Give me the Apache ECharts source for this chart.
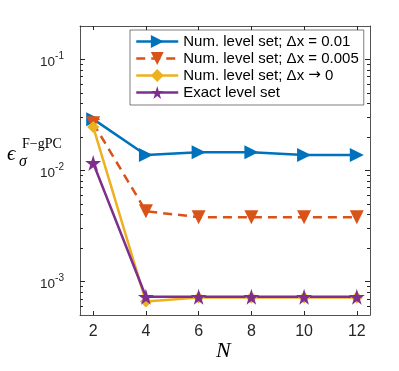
<!DOCTYPE html>
<html>
<head>
<meta charset="utf-8">
<script src="https://cdn.jsdelivr.net/npm/echarts@6/dist/echarts.min.js"></script>
<style>
html, body { margin: 0; padding: 0; background: #fff; }
#myChart { width: 399px; height: 371px; }
</style>
</head>
<body>
<div id="myChart"></div>
<script>
// data
var nVals = [2, 4, 6, 8, 10, 12];
var numDx01 = [0.029, 0.0138, 0.0146, 0.0146, 0.0138, 0.0138];
var numDx005 = [0.0267, 0.0043, 0.0038, 0.0038, 0.0038, 0.0038];
var numDx0 = [0.0247, 0.00066, 0.00072, 0.00072, 0.00072, 0.00072];
var exactLS = [0.0117, 0.00073, 0.00073, 0.00073, 0.00073, 0.00073];
var seriesNames = ['Num. level set; \u0394x = 0.01', 'Num. level set; \u0394x = 0.005', 'Num. level set; \u0394x \u2192 0', 'Exact level set'];
var yMajorTicks = [0.001, 0.01, 0.1];
var yMinorTicks = [0.0006, 0.0007, 0.0008, 0.0009, 0.002, 0.003, 0.004, 0.005, 0.006, 0.007, 0.008, 0.009,
	0.02, 0.03, 0.04, 0.05, 0.06, 0.07, 0.08, 0.09];

var axisColor = '#262626';
var starPath = 'path://M50,0 L61,35 L98,35 L68,57 L79,91 L50,70 L21,91 L32,57 L2,35 L39,35 Z';

function pairs(ys) {
	return nVals.map(function (n, i) { return [n, ys[i]]; });
}

var myChart = echarts.init(document.getElementById('myChart'));

var gridRect = { left: 80, right: 29, top: 26, bottom: 56 };

function xAxisOf(grid, pos, showLine) {
	return {
		type: 'value', gridIndex: grid, min: 1.5, max: 12.5, position: pos,
		splitLine: { show: false },
		axisLine: { show: showLine, onZero: false, lineStyle: { color: axisColor, width: 0.8 } },
		axisTick: { show: showLine, inside: true, length: 4, customValues: nVals, lineStyle: { color: axisColor } },
		axisLabel: { show: false }
	};
}

function yAxisOf(grid, pos, ticks, len) {
	return {
		type: 'log', gridIndex: grid, min: 0.0005, max: 0.2, position: pos,
		splitLine: { show: false },
		axisLine: { show: grid === 0, onZero: false, lineStyle: { color: axisColor, width: 0.8 } },
		axisTick: { inside: true, length: len, customValues: ticks, lineStyle: { color: axisColor } },
		axisLabel: { show: false }
	};
}

var xMain = xAxisOf(0, 'bottom', true);
xMain.axisLabel = { customValues: nVals, fontFamily: 'Liberation Sans', fontSize: 16, color: axisColor, margin: 9 };

var yMain = yAxisOf(0, 'left', yMajorTicks, 5);
yMain.axisLabel = {
	customValues: yMajorTicks,
	margin: 16,
	formatter: function (v) {
		return '{b|10}{s|' + Math.round(Math.log10(v)) + '}';
	},
	rich: {
		b: { fontFamily: 'Liberation Sans', fontSize: 13.5, color: axisColor, padding: [5, 0, 0, 0] },
		s: { fontFamily: 'Liberation Sans', fontSize: 10, color: axisColor, padding: [0, 0, 6, 0] }
	}
};

var option = {
	animation: false,
	grid: [gridRect, gridRect],
	legend: {
		orient: 'vertical',
		left: 130,
		top: 30,
		padding: [4, 5, 5, 5],
		itemWidth: 42,
		itemHeight: 16,
		itemGap: 2,
		backgroundColor: '#fff',
		borderColor: axisColor,
		borderWidth: 0.6,
		lineStyle: { width: 2.5 },
		formatter: function (name) {
			return name.replace('\u2192', '{a|\u2192}');
		},
		textStyle: {
			fontFamily: 'Liberation Sans', fontSize: 15, color: '#000',
			rich: { a: { fontFamily: 'DejaVu Sans', fontSize: 15, color: '#000' } }
		},
		data: seriesNames
	},
	xAxis: [xMain, xAxisOf(0, 'top', true), xAxisOf(1, 'bottom', false)],
	yAxis: [
		yMain,
		yAxisOf(0, 'right', yMajorTicks, 5),
		yAxisOf(1, 'left', yMinorTicks, 3),
		yAxisOf(1, 'right', yMinorTicks, 3)
	],
	graphic: [
		{ type: 'text', left: 7, top: 144, style: { text: '\u03f5', font: 'italic 21px "Liberation Serif"', fill: '#000' } },
		{ type: 'text', left: 19, top: 154, style: { text: '\u03c3', font: 'italic 16px "Liberation Serif"', fill: '#000' } },
		{ type: 'text', left: 22, top: 137, style: { text: 'F\u2212gPC', font: '14px "Liberation Serif"', fill: '#000' } },
		{ type: 'text', left: 216, top: 340, style: { text: 'N', font: 'italic 22px "Liberation Serif"', fill: '#000' } }
	],
	series: [
		{
			name: seriesNames[0],
			type: 'line',
			data: pairs(numDx01),
			color: '#0072BD',
			lineStyle: { width: 2.5 },
			symbol: 'triangle',
			symbolRotate: -90,
			symbolSize: 14
		},
		{
			name: seriesNames[1],
			type: 'line',
			data: pairs(numDx005),
			color: '#D95319',
			lineStyle: { width: 2.5, type: [9, 6] },
			symbol: 'triangle',
			symbolRotate: 180,
			symbolSize: 14
		},
		{
			name: seriesNames[2],
			type: 'line',
			data: pairs(numDx0),
			color: '#EDB120',
			lineStyle: { width: 2.5 },
			symbol: 'diamond',
			symbolSize: 12
		},
		{
			name: seriesNames[3],
			type: 'line',
			data: pairs(exactLS),
			color: '#7E2F8E',
			lineStyle: { width: 2.5 },
			symbol: starPath,
			symbolSize: 16
		}
	]
};

myChart.setOption(option);
</script>
</body>
</html>
